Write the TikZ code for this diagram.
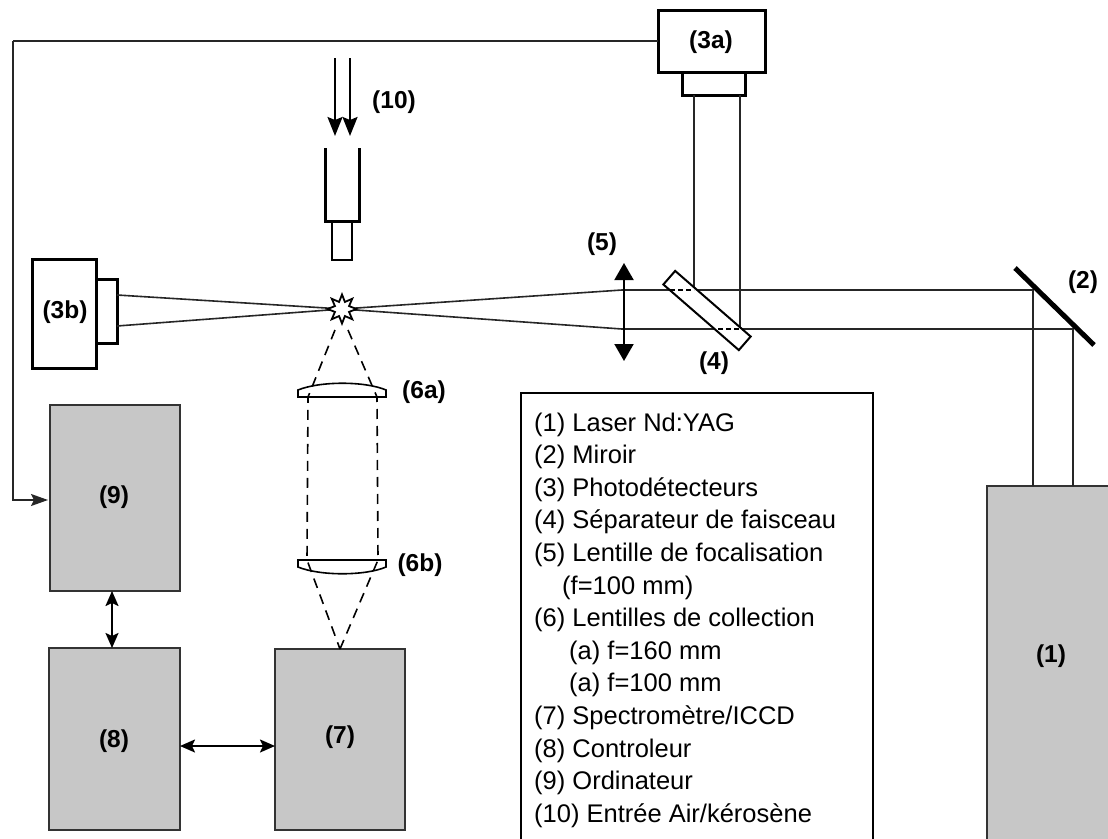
\documentclass[tikz,border=0pt]{standalone}
\usepackage{fontspec}
\setmainfont{Liberation Sans}
\usetikzlibrary{arrows.meta, positioning, calc, shapes.geometric}
\definecolor{BoxGrey}{HTML}{C7C7C7}
\tikzset{
  gbox/.style={draw=black!80, fill=BoxGrey, line width=1.8pt, inner sep=0pt, outer sep=0pt, anchor=north west},
  dbox/.style={draw=black, line width=3pt, fill=white, inner sep=0pt, outer sep=0pt, anchor=north west},
  lab/.style={font=\fontsize{24.5}{28}\selectfont\bfseries, inner sep=0pt},
  beam/.style={line width=1.6pt, draw=black!85},
  wire/.style={line width=1.6pt, draw=black!85},
  dashline/.style={line width=1.6pt, dash pattern=on 10pt off 7pt},
  lens/.style={line width=1.6pt, fill=white},
  flow/.style={{Stealth[length=15pt,width=13pt,inset=3pt]}-{Stealth[length=15pt,width=13pt,inset=3pt]}, line width=2pt},
  flowq/.style={-{Stealth[length=19pt,width=15pt,inset=3pt]}, line width=2pt},
  flowl/.style={{Triangle[length=17pt,width=19pt]}-{Triangle[length=17pt,width=19pt]}, line width=2pt},
}
\begin{document}
\begin{tikzpicture}[x=1pt,y=-1pt]
  \useasboundingbox (0,0) rectangle (1108,838);
  % instruments
  \node[gbox, minimum width=130pt, minimum height=186pt] (pc) at (50,405) {};
  \node[gbox, minimum width=131pt, minimum height=182pt] (ctrl) at (49,648) {};
  \node[gbox, minimum width=130pt, minimum height=181pt] (spec) at (275,649) {};
  \node[gbox, minimum width=130pt, minimum height=370pt] (laser) at (987,486) {};
  \node[lab] (pclab) at (114,497) {(9)};
  \node[lab] (ctrllab) at (114,741) {(8)};
  \node[lab] (speclab) at (340,737) {(7)};
  \node[lab] (laserlab) at (1051,656) {(1)};
  % detectors
  \node[dbox, minimum width=107pt, minimum height=62pt] (det3a) at (658,10) {};
  \node[dbox, minimum width=63pt, minimum height=23pt] (head3a) at (682,72) {};
  \node[dbox, minimum width=64pt, minimum height=109pt] (det3b) at (32,259) {};
  \node[dbox, minimum width=21pt, minimum height=64pt] (head3b) at (96,279) {};
  \node[lab] (lab3a) at (711,42) {(3a)};
  \node[lab] (lab3b) at (65,312) {(3b)};
  \coordinate (bus) at ($(det3a.west)+(-645,0)$);
  \coordinate (linkx) at (112,746);
  \draw[wire] (det3a.west) -- (bus);
  \draw[wire, -{Stealth[length=17pt,width=12pt,inset=3pt]}] (bus) |- ($(pc.west)+(-2,2)$);
  \draw[wire] ($(det3b.north west)+(0,48)$) -- ($(det3b.north west)+(0,48)$ -| bus);
  \draw[flow] (pc.south -| linkx) -- (ctrl.north -| linkx);
  \draw[flow] (ctrl.east |- linkx) -- (spec.west |- linkx);
  % beam path
  \coordinate (spark) at (342,309);
  \coordinate (lensU) at (622,290);
  \coordinate (lensD) at (622,329);
  \coordinate (mirU) at (1033,290);
  \coordinate (mirD) at (1073,329);
  \coordinate (sepU) at (694,290);
  \coordinate (sepD) at (740,329);
  \draw[beam] (laser.north -| mirU) -- (mirU) -- (lensU) -- (spark);
  \draw[beam] (laser.north -| mirD) -- (mirD) -- (lensD) -- (spark);
  \draw[beam] (head3a.south -| sepU) -- (sepU);
  \draw[beam] (head3a.south -| sepD) -- (sepD);
  \draw[beam] ($(head3b.east)+(0,-16)$) -- (spark);
  \draw[beam] ($(head3b.east)+(0,15)$) -- (spark);
  \node[draw, line width=2pt, fill=white, rotate=-41, minimum width=100pt, minimum height=18pt, inner sep=0pt, outer sep=0pt] (sep) at (707,310.5) {};
  \draw[line width=1.1pt, dash pattern=on 5pt off 3pt] (670,290) -- (sepU);
  \draw[line width=1.1pt, dash pattern=on 5pt off 3pt] (718,329) -- (sepD);
  \node[draw, fill=white, line width=1.8pt, star, star points=8, star point ratio=1.9, minimum size=29pt, inner sep=0pt] (star) at (spark) {};
  \coordinate (mirA) at (1015,268);
  \coordinate (mirB) at (1094,345);
  \draw[line width=5pt] (mirA) -- (mirB);
  \coordinate (f5a) at (624,263);
  \coordinate (f5b) at (624,361);
  \draw[flowl] (f5a) -- (f5b);
  % injector
  \draw[line width=3pt] (325,148) -- (325,221) -- (359,221) -- (359,148);
  \node[draw, line width=2.5pt, minimum width=20pt, minimum height=39pt, inner sep=0pt, outer sep=0pt, anchor=north] (inj) at (342,221) {};
  \coordinate (inA) at (335,58);
  \coordinate (inB) at (350,58);
  \draw[flowq] (inA) -- ++(0,78);
  \draw[flowq] (inB) -- ++(0,78);
  % collection lenses
  \draw[lens] (298,397) -- (386,397) -- (386,390) .. controls (365,381) and (320,381) .. (298,390) -- cycle;
  \draw[lens] (298,560) -- (386,560) -- (386,567) .. controls (365,576) and (320,576) .. (298,567) -- cycle;
  \coordinate (a1) at (308,397);
  \coordinate (a2) at (377,397);
  \coordinate (b1) at (307,560);
  \coordinate (b2) at (378,560);
  \draw[dashline] (335,330) -- (a1) -- (b1) -- (spec.north);
  \draw[dashline] (348,330) -- (a2) -- (b2) -- (spec.north);
  % labels
  \node[lab] (l10) at (394,102) {(10)};
  \node[lab] (l5) at (602,244) {(5)};
  \node[lab] (l4) at (714,363) {(4)};
  \node[lab] (l2) at (1083,282) {(2)};
  \node[lab] (l6a) at (424,392) {(6a)};
  \node[lab] (l6b) at (420,565) {(6b)};
  % legend
  \node[draw, line width=2.4pt, fill=white, inner sep=0pt, outer sep=0pt, anchor=north west, minimum width=352pt, minimum height=470pt] (legend) at (521,393) {};
  \node[align=left, inner sep=0pt, anchor=north west, font=\fontsize{25.5}{32.6}\selectfont] (legtext) at (534,412.5) {%
    (1) Laser Nd:YAG\\
    (2) Miroir\\
    (3) Photodétecteurs\\
    (4) Séparateur de faisceau\\
    (5) Lentille de focalisation\\
    \hspace*{28pt}(f=100 mm)\\
    (6) Lentilles de collection\\
    \hspace*{35pt}(a) f=160 mm\\
    \hspace*{35pt}(a) f=100 mm\\
    (7) Spectromètre/ICCD\\
    (8) Controleur\\
    (9) Ordinateur\\
    (10) Entrée Air/kérosène};
\end{tikzpicture}
\end{document}
